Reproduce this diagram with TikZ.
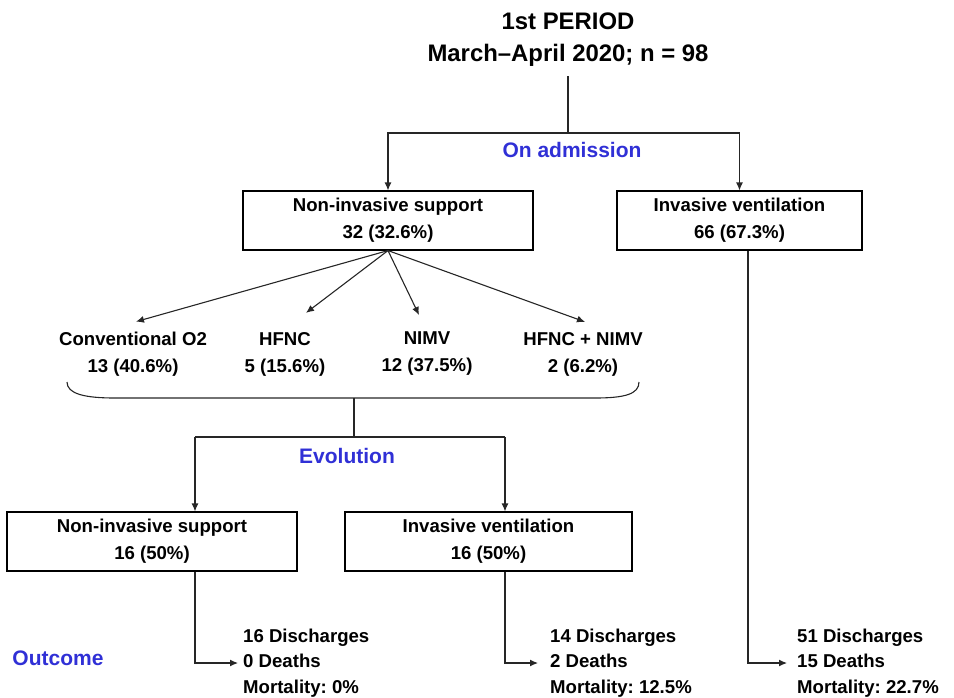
\documentclass[tikz,border=0pt]{standalone}
\usepackage{fontspec}
\setmainfont{Liberation Sans}
\usetikzlibrary{arrows.meta}

\definecolor{stageblue}{RGB}{48,48,214}
\newcommand\bodyfont{\fontsize{18.6}{27}\selectfont\bfseries\frenchspacing}
\newcommand\outfont{\fontsize{18.6}{25.5}\selectfont\bfseries\frenchspacing}
\newcommand\stagefont{\fontsize{21}{25}\selectfont\bfseries}
\newcommand\titlefont{\fontsize{23.9}{32}\selectfont\bfseries\frenchspacing}

\tikzset{
  box/.style={draw=black, line width=1.1pt, minimum height=59pt, align=center, inner sep=0pt, font=\bodyfont},
  item/.style={align=center, inner sep=0pt, font=\bodyfont},
  stage/.style={text=stageblue, inner sep=0pt, font=\stagefont},
  outcome/.style={align=left, anchor=west, inner sep=0pt, font=\outfont},
  link/.style={draw=black!85, line width=1.1pt},
  arrow/.style={link, -{Latex[length=8pt,width=7pt]}}
}

\begin{document}
\begin{tikzpicture}[x=1pt,y=-1pt]
        % Fix the size of the picture
        \useasboundingbox (0,0) rectangle (954,697);

        % Write the period at the top
        \node[align=center, inner sep=0pt, font=\titlefont] (period) at (568,40) {1st PERIOD\\March\textendash April 2020; n = 98};

        % Draw the boxes on admission
        \node[box, minimum width=290pt] (nis) at (388,220.5) {Non-invasive support\\32 (32.6\%)};
        \node[box, minimum width=245pt] (iv) at (739.5,220.5) {Invasive ventilation\\66 (67.3\%)};

        % Split on admission
        \coordinate (adm) at (568,133);
        \draw[link, shorten <=9pt] (period.south) -- (adm);
        \draw[arrow] (adm) -| (nis.north);
        \draw[arrow] (adm) -| (iv.north);
        \node[stage, anchor=base] (admlabel) at (572,157) {On admission};

        % Write the kinds of non-invasive support
        \node[item] (o2) at (133,354) {Conventional O2\\13 (40.6\%)};
        \node[item] (hfnc) at (285,354) {HFNC\\5 (15.6\%)};
        \node[item] (nimv) at (427,354) {NIMV\\12 (37.5\%)};
        \node[item] (both) at (583,354) {HFNC + NIMV\\2 (6.2\%)};

        % Draw the arrows to the kinds
        \draw[arrow] (nis.south) -- ([shift={(3,-10)}]o2.north);
        \draw[arrow] (nis.south) -- ([shift={(21,-19)}]hfnc.north);
        \draw[arrow] (nis.south) -- ([shift={(-8,-17)}]nimv.north);
        \draw[arrow] (nis.south) -- ([shift={(2,-10)}]both.north);

        % Draw the brace under the kinds
        \draw[link] (67,382) .. controls (67,394) and (85,398) .. (115,398) -- (595,398) .. controls (625,398) and (639,394) .. (639,382);
        \coordinate (brace) at (354,398);

        % Draw the boxes of the evolution
        \node[box, minimum width=290pt] (nis2) at (152,541.5) {Non-invasive support\\16 (50\%)};
        \node[box, minimum width=287pt] (iv2) at (488.5,541.5) {Invasive ventilation\\16 (50\%)};

        % Split on evolution
        \coordinate (evo) at (354,437);
        \coordinate (evoL) at (195,437);
        \coordinate (evoR) at (505,437);
        \draw[link] (brace) -- (evo);
        \draw[link] (evoL) -- (evoR);
        \draw[arrow] (evoL) -- (evoL |- nis2.north);
        \draw[arrow] (evoR) -- (evoR |- iv2.north);
        \node[stage, anchor=base] (evolabel) at (347,463) {Evolution};

        % Write the outcomes
        \node[outcome] (out1) at (243,663) {16 Discharges\\0 Deaths\\Mortality: 0\%};
        \node[outcome] (out2) at (550,663) {14 Discharges\\2 Deaths\\Mortality: 12.5\%};
        \node[outcome] (out3) at (797,663) {51 Discharges\\15 Deaths\\Mortality: 22.7\%};
        \node[stage, anchor=base] (outlabel) at (58,665) {Outcome};

        % Draw the arrows to the outcomes
        \draw[arrow, shorten >=5pt] (evoL |- nis2.south) |- (out1.west);
        \draw[arrow, shorten >=12pt] (evoR |- iv2.south) |- (out2.west);
        \draw[arrow, shorten >=10pt] ([xshift=8.5pt]iv.south) |- (out3.west);

      \end{tikzpicture}
\end{document}
